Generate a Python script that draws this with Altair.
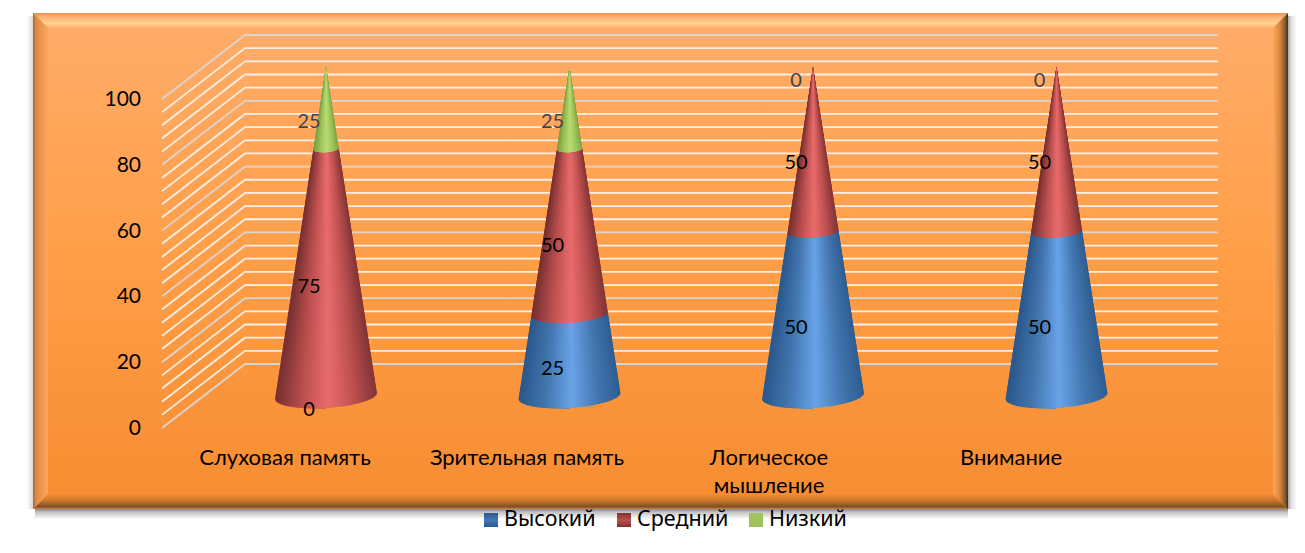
import math
import altair as alt
import pandas as pd

categories = ["Слуховая память", "Зрительная память", "Логическое\nмышление", "Внимание"]
series = ["Высокий", "Средний", "Низкий"]
high = [0, 25, 50, 50]
mid = [75, 50, 50, 50]
low = [25, 25, 0, 0]
y_ticks = [0, 20, 40, 60, 80, 100]
grid_values = list(range(0, 101, 4))

# page pixel <-> data helpers (category unit = cone spacing, y unit = chart value)
W, H = 1289, 537
PX_CAT = 243.5
PX_VAL = 3.29
def X(px): return (px - 326) / PX_CAT
def Y(py): return (396 - py) / PX_VAL
xs = alt.Scale(domain=[X(8), X(8 + W)], nice=False, zero=False)
ys = alt.Scale(domain=[Y(8 + H), Y(8)], nice=False, zero=False)
xe = lambda f="x", t="quantitative": alt.X(f, type=t, scale=xs, axis=None)
ye = lambda f="y", t="quantitative": alt.Y(f, type=t, scale=ys, axis=None)

def grad(stops, horizontal=False):
    return alt.Gradient(
        gradient="linear",
        x1=0, y1=0,
        x2=1 if horizontal else 0,
        y2=0 if horizontal else 1,
        stops=[alt.GradientStop(offset=o, color=c) for o, c in stops],
    )

def rect(x0, x1, y0, y1, g):
    d = pd.DataFrame([{"x": X(x0), "x2": X(x1), "y": Y(y0), "y2": Y(y1)}])
    return alt.Chart(d).mark_rect(color=g).encode(
        x=xe(), x2="x2:Q", y=ye(), y2="y2:Q")

L, R, T, B, BV = 33, 1288, 13, 509, 15
layers = []
# outer shadow
layers.append(rect(L + 2, R, B, B + 10, grad([(0, "#8a8a8a"), (0.35, "#c4c4c4"), (1, "#ffffff")])))
layers.append(rect(R, R + 9, T + 3, B, grad([(0, "#a8a8a8"), (0.4, "#e2e2e2"), (1, "#ffffff")], True)))
layers.append(rect(L - 6, L, T + 3, B, grad([(0, "#ffffff"), (1, "#d8d8d8")], True)))
# panel
layers.append(rect(L, R, T, B, grad([(0, "#FFAD6B"), (0.5, "#FF9E47"), (1, "#F68C31")])))

def hband(y0, y1, x00, x01, x10, x11, g):
    d = pd.DataFrame([
        {"y": Y(y0), "x": X(x00), "x2": X(x01)},
        {"y": Y(y1), "x": X(x10), "x2": X(x11)},
    ])
    return alt.Chart(d).mark_area(color=g, orient="horizontal").encode(
        y=ye(), x=xe(), x2="x2:Q")

def vband(x0, x1, y00, y01, y10, y11, g):
    d = pd.DataFrame([
        {"x": X(x0), "y": Y(y00), "y2": Y(y01)},
        {"x": X(x1), "y": Y(y10), "y2": Y(y11)},
    ])
    return alt.Chart(d).mark_area(color=g, orient="vertical").encode(
        x=xe(), y=ye(), y2="y2:Q")

layers.append(hband(T, T + BV, L, R, L + BV, R - BV,
                    grad([(0, "#EE9052"), (0.3, "#FFB477"), (0.7, "#FFD390"), (1, "#FFAE6C")])))
layers.append(hband(B - BV, B, L + BV, R - BV, L, R,
                    grad([(0, "#F58E34"), (0.45, "#C9762C"), (0.85, "#7E4E22"), (1, "#C98343")])))
layers.append(vband(L, L + BV, T, B, T + BV, B - BV,
                    grad([(0, "#A66A33"), (0.2, "#DC8A45"), (1, "#FFA65C")], True)))
layers.append(vband(R - BV, R, T + BV, B - BV, T, B,
                    grad([(0, "#FFA65C"), (0.45, "#D8893F"), (0.85, "#7A5227"), (1, "#3A2A18")], True)))

# walls: each grid line runs front-left -> back-left -> back-right
FRONT_X, BACK_X, RIGHT_X = X(162), X(245), X(1218)
DEPTH = 32 / PX_VAL
rows = []
for v in grid_values:
    for o, (gx, gy) in enumerate([(FRONT_X, v - DEPTH), (BACK_X, v + DEPTH), (RIGHT_X, v + DEPTH)]):
        rows.append({"v": v, "o": o, "x": gx, "y": gy, "major": v % 20 == 0})
grid = pd.DataFrame(rows)
for major, col in [(False, "#F8F0E8"), (True, "#D9D5D1")]:
    layers.append(alt.Chart(grid[grid.major == major]).mark_line(color=col, strokeWidth=1.8).encode(
        x=xe(), y=ye(), detail="v:N", order="o:Q"))

# y tick labels on the front edge
layers.append(alt.Chart(pd.DataFrame({"t": y_ticks, "y": [t - DEPTH for t in y_ticks],
                                      "x": [X(141)] * len(y_ticks)})).mark_text(
    align="right", baseline="middle", font="Lato, Open Sans", fontSize=21, dy=1, color="#000000").encode(
    x=xe(), y=ye(), text="t:N"))

# cones
def mix(a, b, f):
    ca = [int(a[i:i + 2], 16) for i in (1, 3, 5)]
    cb = [int(b[i:i + 2], 16) for i in (1, 3, 5)]
    return "#%02x%02x%02x" % tuple(round(p + (q - p) * f) for p, q in zip(ca, cb))

palette = {
    "Высокий": ("#2C5A8E", "#4478B2", "#69A4E8"),
    "Средний": ("#7C3232", "#BE5050", "#E96C6C"),
    "Низкий": ("#7FA044", "#A0C45A", "#B8DC74"),
}
def shade(name, t):
    edge, half, centre = palette[name]
    u = min(1, abs(t - 0.05))
    return mix(centre, half, u / 0.5) if u < 0.5 else mix(half, edge, (u - 0.5) / 0.5)

RADIUS, ARC, TILT, N = 51, 0.235, -0.059, 48
def surface_h(v, t):
    r = RADIUS * (1 - v / 100)
    return v - r * (ARC * math.sqrt(max(0, 1 - t * t)) + TILT * t) / PX_VAL

strips, labels = [], []
for c, vals in enumerate(zip(high, mid, low)):
    base = 0
    for name, val in zip(series, vals):
        labels.append({"x": c, "y": base + val / 2, "t": val, "s": name})
        if val > 0:
            # painted from the rim towards the middle; each strip runs under the next one
            order = sorted(range(N), key=lambda i: -abs(i + 0.5 - N / 2))
            for i in order:
                t0 = -math.cos(math.pi * i / N)
                t1 = -math.cos(math.pi * (i + 1) / N)
                tm = (t0 + t1) / 2
                a, b = (t0, 0.0) if tm < 0 else (0.0, t1)
                col = shade(name, tm)
                for v in (base, base + val):
                    r = RADIUS * (1 - v / 100) / PX_CAT
                    strips.append({"id": f"{c}-{name}-{i}", "c": col, "y": surface_h(v, tm),
                                   "x": c + a * r, "x2": c + b * r})
        base += val
layers.append(alt.Chart(pd.DataFrame(strips)).mark_area(orient="horizontal").encode(
    y=ye(), x=xe(), x2="x2:Q", detail="id:N", color=alt.Color("c:N", scale=None)))

lab = pd.DataFrame(labels)
layers.append(alt.Chart(lab[lab.s != "Низкий"]).mark_text(
    font="Lato, Open Sans", fontSize=20, dx=-17, dy=14, color="#000000", baseline="middle").encode(
    x=xe(), y=ye(), text="t:N"))
layers.append(alt.Chart(lab[lab.s == "Низкий"]).mark_text(
    font="Lato, Open Sans", fontSize=20, dx=-17, dy=14, color="#3F4450", baseline="middle").encode(
    x=xe(), y=ye(), text="t:N"))

# category labels
cat = pd.DataFrame({"t": categories, "x": [X(285 + 242 * i) for i in range(4)], "y": [Y(458)] * 4})
layers.append(alt.Chart(cat).mark_text(
    font="Lato, Open Sans", fontSize=22, lineBreak="\n", lineHeight=28, baseline="middle", color="#000000").encode(
    x=xe(), y=ye(), text="t:N"))

# legend
swatch_x = [484, 617, 749]
for name, sx in zip(series, swatch_x):
    edge, half, centre = palette[name]
    if name == "Низкий":
        g = grad([(0, half), (1, half)])
    else:
        g = grad([(0, edge), (0.5, half), (1, edge)])
    layers.append(rect(sx, sx + 14, 513, 527, g))
    layers.append(alt.Chart(pd.DataFrame({"t": [name], "x": [X(sx + 20)], "y": [Y(520)]})).mark_text(
        align="left", baseline="middle", font="Noto Sans, Open Sans", fontSize=21.5, color="#000000").encode(
        x=xe(), y=ye(), text="t:N"))

chart = alt.layer(*layers).properties(
    width=W, height=H, padding=0, autosize="none", background="#ffffff"
).configure_view(stroke=None)

chart.save("out.html", embed_options={"renderer": "svg", "actions": False})
